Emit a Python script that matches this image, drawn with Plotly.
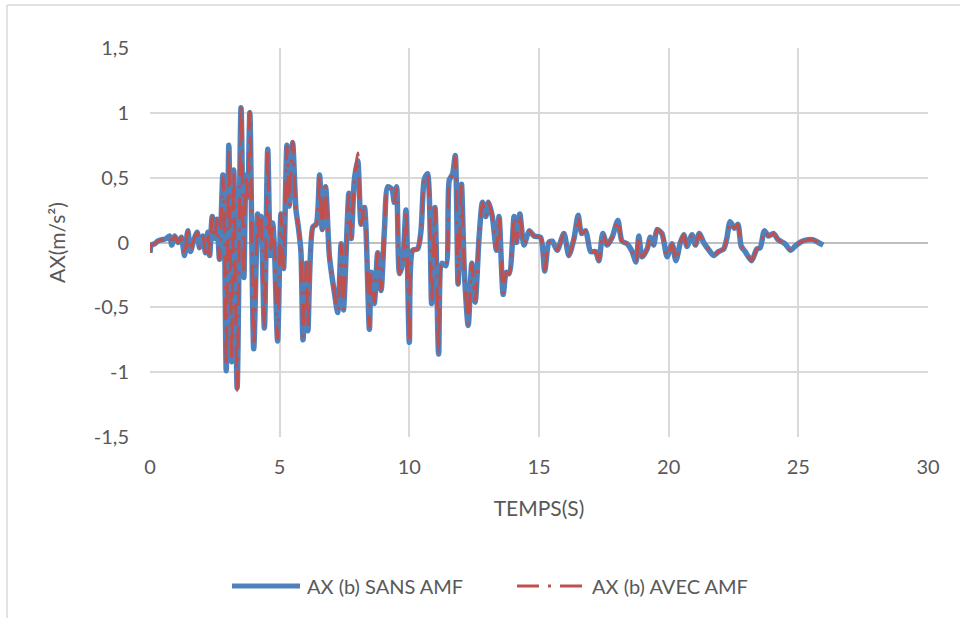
import plotly.graph_objects as go

# Time (s) and horizontal acceleration AX (m/s²)
temps = [
    0.00, 0.05, 0.18, 0.30, 0.44, 0.63, 0.76, 0.84, 0.95, 1.08,
    1.21, 1.33, 1.46, 1.56, 1.69, 1.82, 1.91, 2.04, 2.14, 2.23,
    2.30, 2.40, 2.50, 2.58, 2.68, 2.81, 2.86, 2.94, 3.04, 3.15,
    3.23, 3.36, 3.51, 3.62, 3.70, 3.77, 3.85, 4.00, 4.15, 4.20,
    4.28, 4.41, 4.54, 4.64, 4.73, 4.80, 4.92, 5.05, 5.15, 5.28,
    5.37, 5.50, 5.63, 5.72, 5.82, 5.90, 6.03, 6.09, 6.28, 6.41,
    6.54, 6.64, 6.77, 6.92, 7.12, 7.24, 7.37, 7.46, 7.67, 7.76,
    7.88, 8.01, 8.14, 8.27, 8.33, 8.46, 8.53, 8.65, 8.78, 8.91,
    9.04, 9.17, 9.33, 9.42, 9.51, 9.62, 9.74, 9.87, 10.00, 10.13,
    10.32, 10.45, 10.58, 10.70, 10.86, 10.99, 11.13, 11.26, 11.41, 11.54,
    11.67, 11.77, 11.88, 12.01, 12.12, 12.27, 12.41, 12.54, 12.69, 12.82,
    12.95, 13.05, 13.20, 13.36, 13.46, 13.62, 13.74, 13.85, 14.04, 14.13,
    14.26, 14.42, 14.62, 14.81, 15.06, 15.22, 15.38, 15.51, 15.70, 15.96,
    16.15, 16.35, 16.51, 16.64, 16.80, 16.99, 17.18, 17.31, 17.46, 17.63,
    17.82, 18.04, 18.20, 18.40, 18.59, 18.74, 18.85, 18.97, 19.17, 19.29,
    19.42, 19.55, 19.74, 19.94, 20.13, 20.28, 20.45, 20.58, 20.71, 20.90,
    21.03, 21.18, 21.35, 21.56, 21.73, 21.92, 22.12, 22.24, 22.37, 22.54,
    22.67, 22.80, 22.95, 23.20, 23.40, 23.53, 23.69, 23.85, 24.04, 24.23,
    24.49, 24.70, 24.87, 25.06, 25.32, 25.58, 25.77, 25.96,
]

ax_sans_amf = [
    -0.08, -0.02, -0.01, 0.01, 0.02, 0.03, 0.05, -0.02, 0.05, 0.00,
    0.04, -0.10, 0.09, -0.07, 0.02, 0.08, -0.04, 0.05, -0.08, 0.08,
    -0.10, 0.20, 0.03, 0.18, -0.13, 0.52, 0.30, -0.99, 0.75, -0.92,
    0.56, -1.12, 1.04, -0.27, 0.52, 0.35, 1.00, -0.82, 0.22, 0.05,
    0.20, -0.66, 0.72, -0.10, 0.15, -0.05, -0.76, 0.22, -0.20, 0.75,
    0.28, 0.77, 0.25, 0.12, -0.07, -0.75, -0.16, -0.68, 0.12, 0.14,
    0.52, 0.10, 0.43, -0.11, -0.40, -0.54, -0.01, -0.52, 0.38, 0.03,
    0.48, 0.63, 0.14, 0.27, 0.10, -0.67, -0.23, -0.47, -0.08, -0.37,
    0.10, 0.43, 0.41, 0.31, 0.43, -0.24, -0.16, 0.25, -0.77, -0.06,
    -0.05, 0.09, 0.49, 0.53, -0.47, 0.27, -0.86, -0.16, -0.18, 0.48,
    0.53, 0.67, -0.32, 0.45, -0.22, -0.64, -0.16, -0.46, 0.04, 0.31,
    0.20, 0.31, 0.20, -0.06, 0.20, -0.40, -0.23, -0.24, 0.20, 0.00,
    0.22, -0.02, 0.09, 0.05, 0.04, -0.22, 0.00, 0.01, -0.06, 0.07,
    -0.10, 0.03, 0.21, 0.07, 0.09, -0.07, -0.07, -0.14, 0.07, -0.02,
    0.04, 0.17, 0.01, -0.01, -0.07, -0.15, 0.05, -0.11, -0.05, 0.04,
    -0.02, 0.10, 0.07, -0.11, -0.01, -0.14, 0.00, 0.06, -0.03, 0.06,
    -0.02, 0.07, 0.00, -0.06, -0.10, -0.07, -0.05, 0.03, 0.16, 0.11,
    0.14, -0.03, -0.07, -0.14, -0.05, -0.04, 0.09, 0.05, 0.07, 0.02,
    -0.01, -0.06, -0.03, 0.00, 0.02, 0.02, 0.00, -0.02,
]

ax_avec_amf = [
    -0.08, -0.02, -0.01, 0.01, 0.02, 0.03, 0.05, -0.02, 0.05, 0.00,
    0.04, -0.10, 0.09, -0.07, 0.02, 0.08, -0.04, 0.05, -0.08, 0.08,
    -0.10, 0.20, 0.03, 0.18, -0.13, 0.50, 0.30, -0.95, 0.73, -0.90,
    0.55, -1.14, 1.06, -0.25, 0.52, 0.35, 1.01, -0.80, 0.22, 0.05,
    0.20, -0.64, 0.71, -0.08, 0.15, -0.05, -0.74, 0.22, -0.20, 0.74,
    0.28, 0.78, 0.25, 0.12, -0.07, -0.72, -0.16, -0.66, 0.12, 0.14,
    0.51, 0.10, 0.43, -0.11, -0.40, -0.53, -0.01, -0.51, 0.37, 0.03,
    0.48, 0.69, 0.14, 0.27, 0.10, -0.65, -0.23, -0.46, -0.08, -0.37,
    0.10, 0.42, 0.41, 0.31, 0.42, -0.24, -0.16, 0.25, -0.76, -0.06,
    -0.05, 0.09, 0.48, 0.53, -0.46, 0.27, -0.84, -0.16, -0.18, 0.47,
    0.53, 0.66, -0.32, 0.45, -0.22, -0.63, -0.16, -0.45, 0.04, 0.31,
    0.20, 0.31, 0.20, -0.06, 0.20, -0.39, -0.23, -0.24, 0.20, 0.00,
    0.22, -0.02, 0.09, 0.05, 0.04, -0.21, 0.00, 0.01, -0.06, 0.07,
    -0.10, 0.03, 0.20, 0.07, 0.09, -0.07, -0.07, -0.14, 0.07, -0.02,
    0.04, 0.17, 0.01, -0.01, -0.07, -0.15, 0.05, -0.11, -0.05, 0.04,
    -0.02, 0.10, 0.07, -0.11, -0.01, -0.14, 0.00, 0.06, -0.03, 0.06,
    -0.02, 0.07, 0.00, -0.06, -0.10, -0.07, -0.05, 0.03, 0.16, 0.11,
    0.14, -0.03, -0.07, -0.14, -0.05, -0.04, 0.09, 0.05, 0.07, 0.02,
    -0.01, -0.06, -0.03, 0.00, 0.02, 0.02, 0.00, -0.02,
]

y_ticks = [-1.5, -1.0, -0.5, 0.0, 0.5, 1.0, 1.5]
y_tick_labels = ["-1,5", "-1", "-0,5", "0", "0,5", "1", "1,5"]
x_ticks = [0, 5, 10, 15, 20, 25, 30]

series_names = ["AX (b) SANS AMF", "AX (b) AVEC AMF"]

BLUE = "#4F81BD"
RED = "#C0504D"
TEXT = "#595959"
GRID = "#D9D9D9"
FONT = "Lato, 'Open Sans', sans-serif"
DASHDOT = "22px,9px,3px,9px"

W, H = 960, 618
M_L, M_R, M_T, M_B = 150, 32, 48, 181

fig = go.Figure()
fig.add_trace(go.Scatter(
    x=temps, y=ax_sans_amf, mode="lines", name=series_names[0],
    line=dict(color=BLUE, width=5.5, shape="spline", smoothing=0.7),
    showlegend=False,
))
fig.add_trace(go.Scatter(
    x=temps, y=ax_avec_amf, mode="lines", name=series_names[1],
    line=dict(color=RED, width=3, shape="spline", smoothing=0.7, dash=DASHDOT),
    showlegend=False,
))

# helpers converting pixel positions to paper coordinates
pw, ph = W - M_L - M_R, H - M_T - M_B
def px(x):
    return (x - M_L) / pw
def py(y):
    return (H - M_B - y) / ph

shapes = [
    # chart outer frame (top and left edges)
    dict(type="line", xref="paper", yref="paper", x0=px(7), x1=px(990),
         y0=py(5), y1=py(5), line=dict(color=GRID, width=1.5)),
    dict(type="line", xref="paper", yref="paper", x0=px(7), x1=px(7),
         y0=py(5), y1=py(640), line=dict(color=GRID, width=1.5)),
    # legend samples
    dict(type="line", xref="paper", yref="paper", x0=px(232), x1=px(300),
         y0=py(586), y1=py(586), line=dict(color=BLUE, width=5)),
    dict(type="line", xref="paper", yref="paper", x0=px(517), x1=px(585),
         y0=py(586), y1=py(586), line=dict(color=RED, width=3, dash=DASHDOT)),
]
annotations = [
    dict(text=series_names[0], xref="paper", yref="paper", x=px(305), y=py(586),
         xanchor="left", yanchor="middle", showarrow=False,
         font=dict(family=FONT, size=20, color=TEXT)),
    dict(text=series_names[1], xref="paper", yref="paper", x=px(590), y=py(586),
         xanchor="left", yanchor="middle", showarrow=False,
         font=dict(family=FONT, size=20, color=TEXT)),
]

fig.update_layout(
    width=W, height=H,
    margin=dict(l=M_L, r=M_R, t=M_T, b=M_B),
    paper_bgcolor="white", plot_bgcolor="white",
    font=dict(family=FONT, size=20, color=TEXT),
    shapes=shapes, annotations=annotations,
    xaxis=dict(
        range=[0, 30], tickvals=x_ticks, showgrid=True, gridcolor=GRID, gridwidth=1.5,
        zeroline=False, showline=False, ticks="", ticklabelstandoff=16,
        tickfont=dict(size=20, color=TEXT),
        title=dict(text="TEMPS(S)", font=dict(size=21, color=TEXT), standoff=24),
    ),
    yaxis=dict(
        range=[-1.5, 1.5], tickvals=y_ticks, ticktext=y_tick_labels,
        showgrid=True, gridcolor=GRID, gridwidth=1.5,
        zeroline=True, zerolinecolor="#BFBFBF", zerolinewidth=2,
        showline=False, ticks="", ticklabelstandoff=20,
        tickfont=dict(size=20, color=TEXT),
        title=dict(text="AX(m/s²)", font=dict(size=21, color=TEXT), standoff=22),
    ),
)

fig.write_html("out.html")
